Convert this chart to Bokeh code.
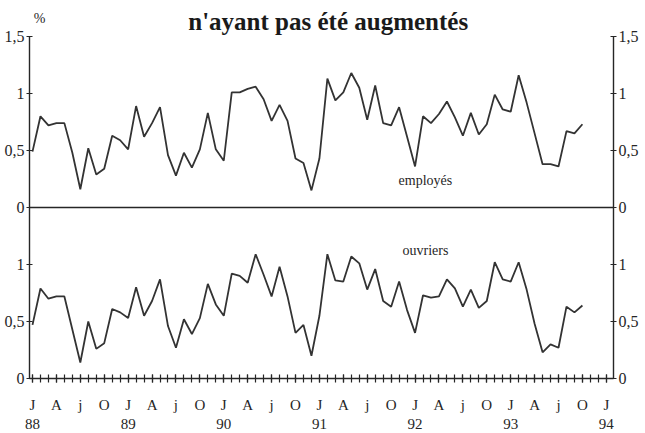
from bokeh.plotting import figure
from bokeh.models import Range1d, LinearAxis, FixedTicker, Span, Label
from bokeh.embed import file_html
from bokeh.resources import INLINE

# Monthly share (%) — January 1988 to October 1993
employes = [0.49, 0.80, 0.72, 0.74, 0.74, 0.48, 0.16, 0.52, 0.29, 0.34,
            0.63, 0.59, 0.51, 0.89, 0.62, 0.74, 0.88, 0.46, 0.28, 0.48,
            0.35, 0.51, 0.83, 0.51, 0.41, 1.01, 1.01, 1.04, 1.06, 0.95,
            0.76, 0.90, 0.76, 0.43, 0.39, 0.15, 0.43, 1.13, 0.94, 1.01,
            1.18, 1.05, 0.77, 1.07, 0.74, 0.72, 0.88, 0.62, 0.36, 0.80,
            0.74, 0.82, 0.93, 0.79, 0.63, 0.83, 0.64, 0.73, 0.99, 0.86,
            0.84, 1.16, 0.92, 0.65, 0.38, 0.38, 0.36, 0.67, 0.65, 0.73]
ouvriers = [0.47, 0.79, 0.70, 0.72, 0.72, 0.43, 0.14, 0.50, 0.26, 0.31,
            0.61, 0.58, 0.53, 0.80, 0.55, 0.68, 0.87, 0.46, 0.27, 0.52,
            0.39, 0.53, 0.83, 0.65, 0.55, 0.92, 0.90, 0.84, 1.09, 0.91,
            0.72, 0.98, 0.72, 0.40, 0.47, 0.20, 0.55, 1.09, 0.86, 0.85,
            1.07, 1.01, 0.78, 0.96, 0.68, 0.63, 0.85, 0.60, 0.40, 0.73,
            0.71, 0.72, 0.87, 0.79, 0.63, 0.78, 0.62, 0.68, 1.02, 0.87,
            0.85, 1.02, 0.78, 0.48, 0.23, 0.30, 0.27, 0.63, 0.58, 0.64]
quarter_letters = ["J", "A", "j", "O"]
years = ["88", "89", "90", "91", "92", "93", "94"]
y_ticks = [0, 0.5, 1, 1.5]
y_tick_text = ["0", "0,5", "1", "1,5"]

SERIF = "Liberation Serif"
INK = "#262626"

months = list(range(len(employes)))
n_months_axis = 12 * (len(years) - 1)  # Jan 88 .. Jan 94

# y: lower panel 0..1.5, upper panel 1.5..3 (own range), headroom for the title
p = figure(frame_width=584, frame_height=370,
           x_range=Range1d(-0.376, 72.9), y_range=Range1d(0, 3.2456),
           x_axis_location=None, y_axis_location=None,
           output_backend="svg", toolbar_location=None,
           min_border_left=29, min_border_right=4,
           min_border_top=8, min_border_bottom=2,
           outline_line_color=None, background_fill_color="white",
           border_fill_color="white")
p.extra_y_ranges = {"top": Range1d(-1.5, 1.7456)}
p.grid.grid_line_color = None

ticks_all = []
overrides = {}
for v, t in zip(y_ticks, y_tick_text):
    ticks_all.append(v)
    overrides[v] = t
for v, t in zip(y_ticks, y_tick_text):
    ticks_all.append(v + 1.5)
    overrides[v + 1.5] = t
ticks_all = sorted(set(ticks_all))

def style_y(ax):
    ax.ticker = FixedTicker(ticks=ticks_all)
    ax.bounds = (0, 3)
    ax.major_label_overrides = overrides
    ax.major_tick_in = 3
    ax.major_tick_out = 3
    ax.minor_tick_in = 0
    ax.minor_tick_out = 0
    ax.axis_line_color = INK
    ax.axis_line_width = 1.4
    ax.major_tick_line_color = INK
    ax.major_tick_line_width = 1.2
    ax.major_label_text_font = SERIF
    ax.major_label_text_font_size = "16px"
    ax.major_label_text_color = INK
    ax.major_label_standoff = 2

left = LinearAxis()
style_y(left)
right = LinearAxis()
style_y(right)
p.add_layout(left, "left")
p.add_layout(right, "right")

q_ticks = []
x_over = {}
for i in range(n_months_axis // 3 + 1):
    m = 3 * i
    q_ticks.append(m)
    lab = quarter_letters[i % 4]
    if i % 4 == 0:
        lab = lab + "\n" + years[i // 4]
    x_over[m] = lab
bottom = LinearAxis(ticker=FixedTicker(ticks=q_ticks,
                                       minor_ticks=list(range(n_months_axis + 1))))
bottom.major_label_overrides = x_over
bottom.major_tick_in = 4
bottom.major_tick_out = 4
bottom.minor_tick_in = 4
bottom.minor_tick_out = 4
bottom.axis_line_color = INK
bottom.axis_line_width = 1.4
bottom.major_tick_line_color = INK
bottom.minor_tick_line_color = INK
bottom.major_tick_line_width = 1.2
bottom.minor_tick_line_width = 1.2
bottom.major_label_text_font = SERIF
bottom.major_label_text_font_size = "15px"
bottom.major_label_text_color = INK
bottom.major_label_standoff = 14
p.add_layout(bottom, "below")

p.add_layout(Span(location=0, dimension="width", y_range_name="top",
                  line_color=INK, line_width=1.6))

p.line(months, employes, y_range_name="top", line_color="#333333", line_width=1.8)
p.line(months, ouvriers, line_color="#333333", line_width=1.8)

p.add_layout(Label(x=49.3, y=0.24, y_range_name="top", text="employés",
                   text_align="center", text_baseline="middle",
                   text_font=SERIF, text_font_size="14px", text_color=INK))
p.add_layout(Label(x=49.3, y=1.12, text="ouvriers",
                   text_align="center", text_baseline="middle",
                   text_font=SERIF, text_font_size="14px", text_color=INK))
p.add_layout(Label(x=0.9, y=3.158, text="%", text_align="center",
                   text_baseline="middle", text_font=SERIF,
                   text_font_size="14px", text_color=INK))
p.add_layout(Label(x=37.1, y=3.131, text="n'ayant pas été augmentés",
                   text_align="center", text_baseline="alphabetic",
                   text_font=SERIF, text_font_style="bold",
                   text_font_size="25px", text_color="#1a1a1a"))

open("out.html", "w").write(file_html(p, INLINE))
